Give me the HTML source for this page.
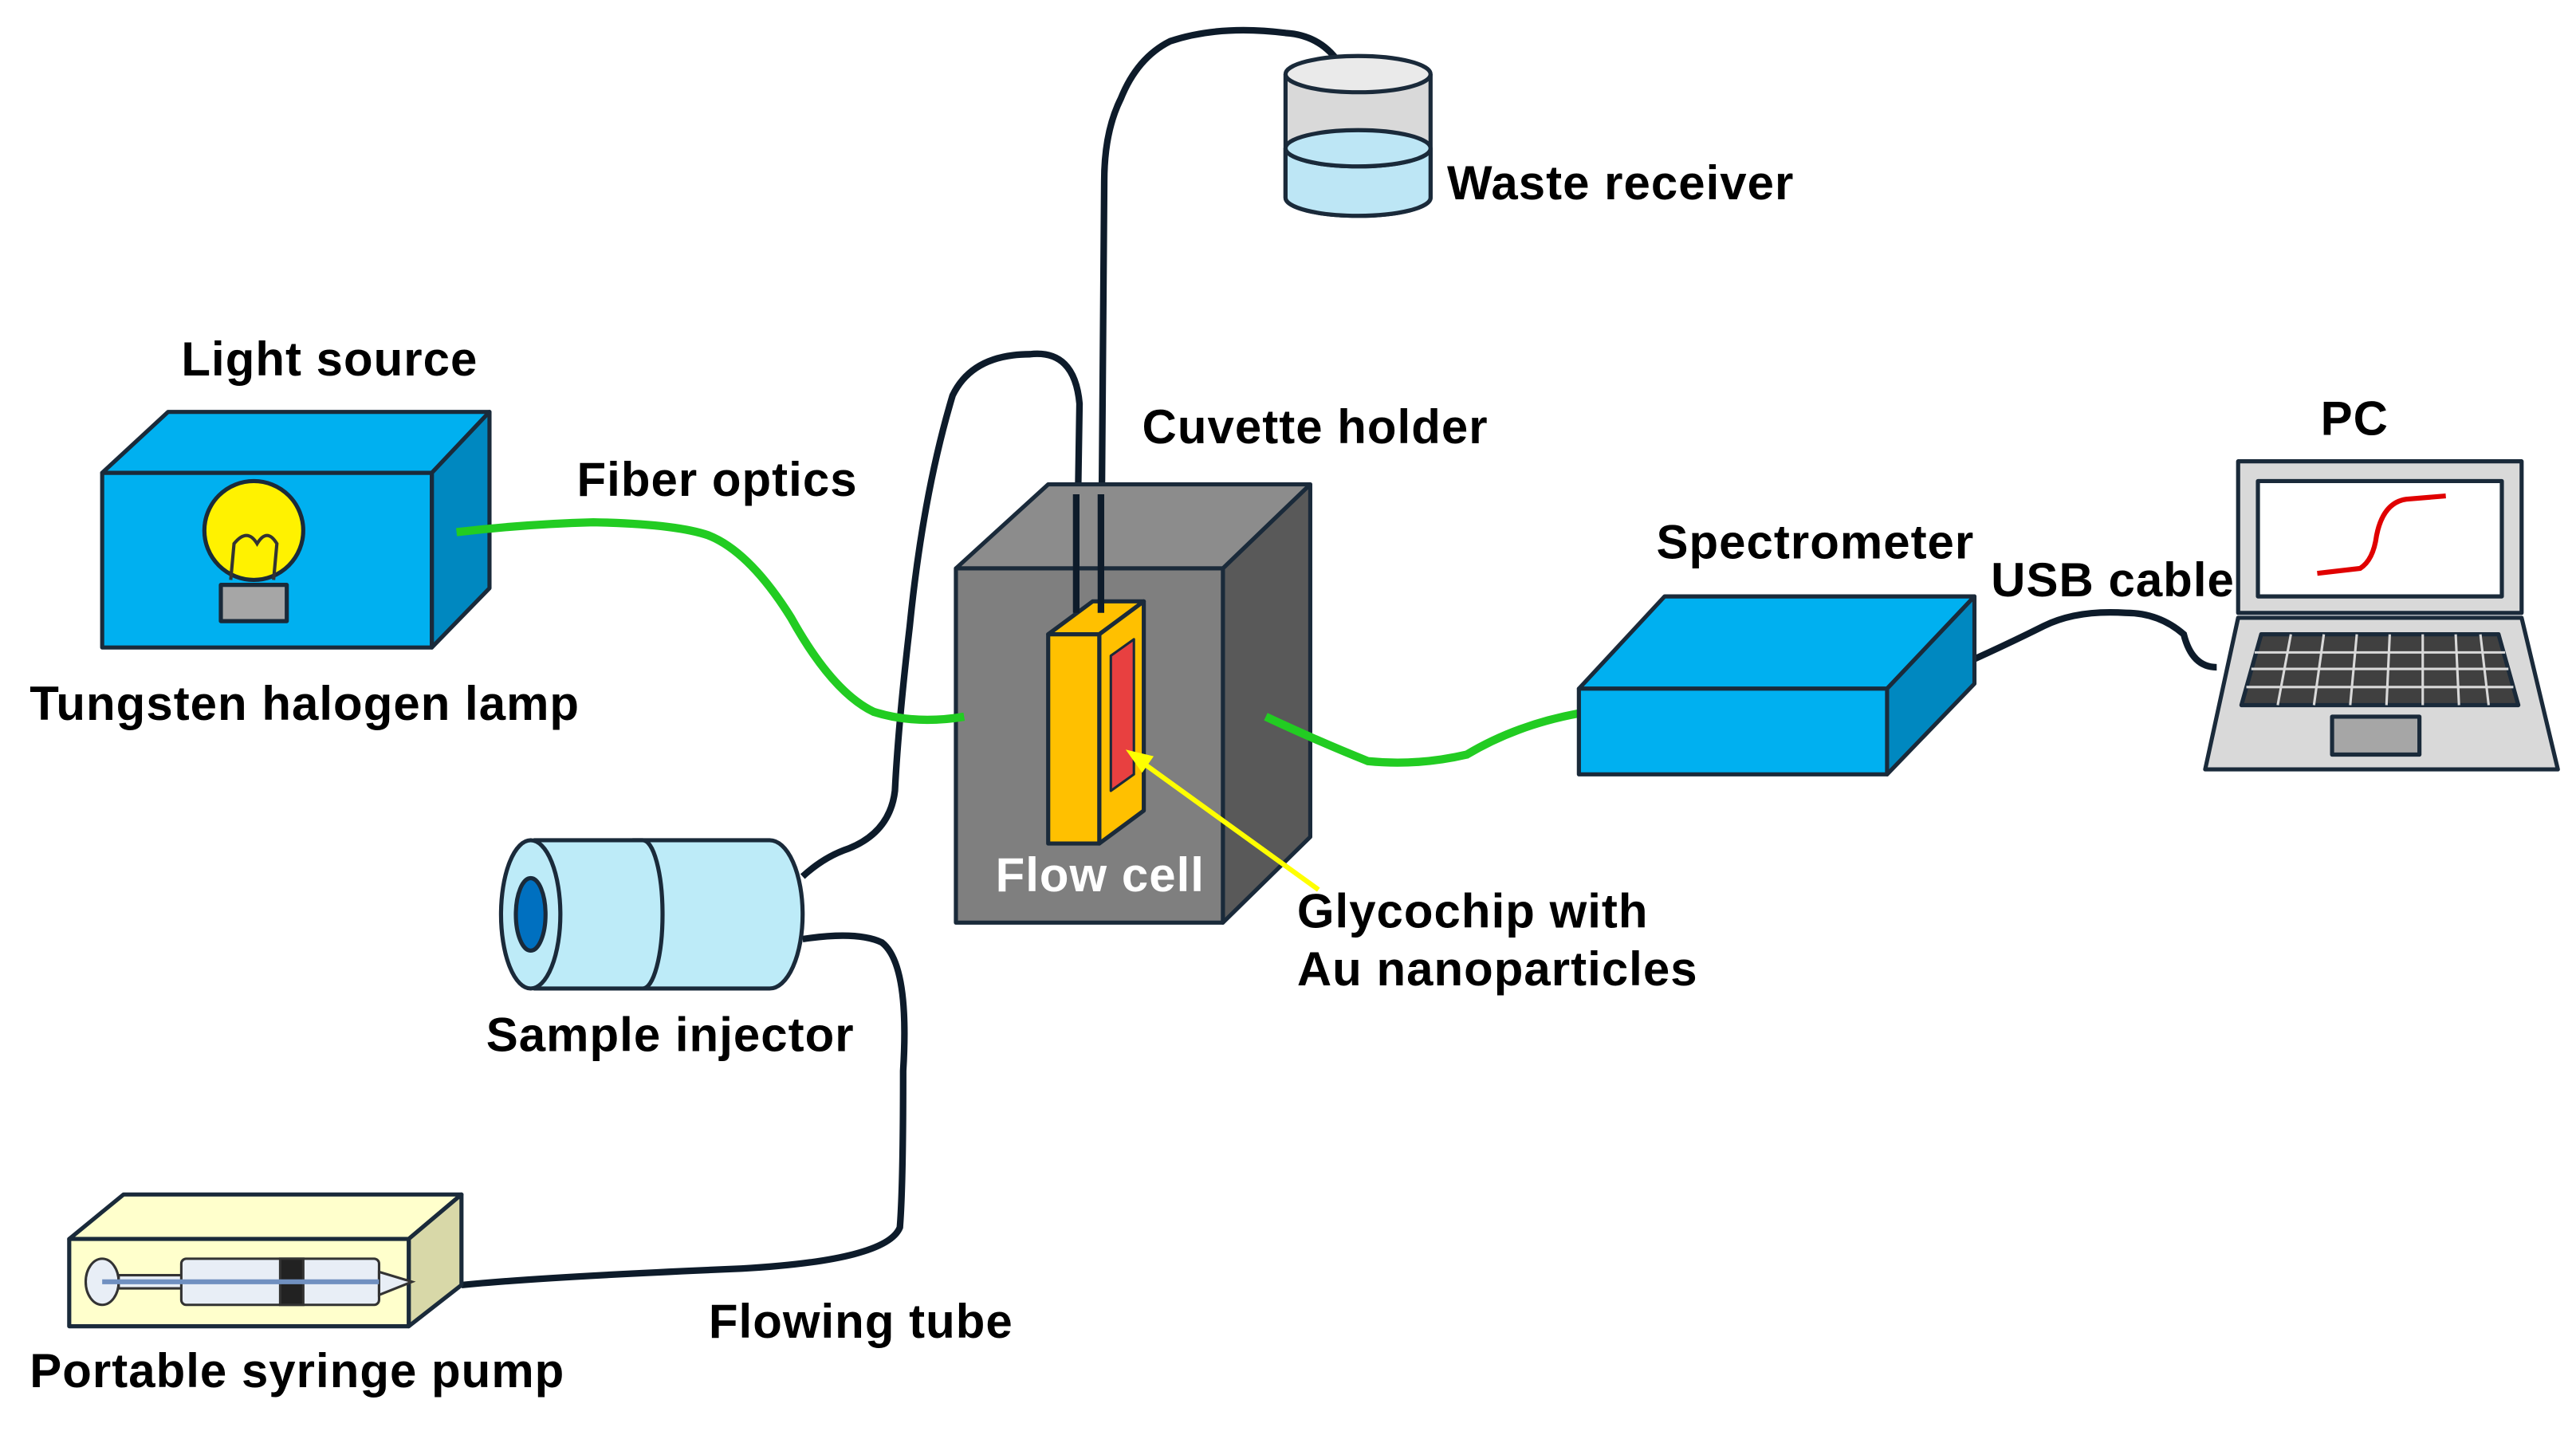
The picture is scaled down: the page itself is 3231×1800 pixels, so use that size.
<!DOCTYPE html>
<html><head><meta charset="utf-8"><style>html,body{margin:0;padding:0;background:#fff}svg{display:block}text{font-family:"Liberation Sans",sans-serif;font-weight:bold;font-size:29px;letter-spacing:0.5px;fill:#000}</style></head>
<body>
<svg width="3231" height="1800" viewBox="0 0 1563 871" preserveAspectRatio="none" xmlns="http://www.w3.org/2000/svg">
<g stroke="#1a2a3a" stroke-width="2.5" stroke-linejoin="round">
<polygon points="62,287 102,250 297,250 262,287" fill="#00B0F0"/>
<polygon points="262,287 297,250 297,357 262,393" fill="#0088C0"/>
<rect x="62" y="287" width="200" height="106" fill="#00B0F0"/>
<circle cx="154" cy="322" r="30" fill="#FFF200"/>
<rect x="134" y="355" width="40" height="22" fill="#A6A6A6"/>
</g>
<path d="M140,352 L142,330 Q150,320 156,330 Q162,320 168,330 L166,352" fill="none" stroke="#333" stroke-width="2"/>
<text x="110" y="228">Light source</text>
<text x="18" y="437">Tungsten halogen lamp</text>
<text x="350" y="301">Fiber optics</text>
<g fill="none" stroke="#0D1B2A" stroke-width="4">
<path d="M653,372 L655,245 Q652,212 625,215 Q590,215 578,240 Q560,300 552,380 Q545,440 543,480 Q540,505 515,515 Q500,520 487,532"/>
<path d="M668,372 L670,110 Q670,80 680,60 Q690,35 710,25 Q740,15 780,20 Q812,22 822,60"/>
<path d="M487,570 Q520,565 535,572 Q552,585 548,650 Q548,720 546,745 Q538,765 450,770 Q330,775 280,780"/>
<path d="M1198,400 Q1220,390 1240,380 Q1260,370 1290,372 Q1310,372 1325,385 Q1330,405 1345,405"/>
</g>
<g stroke="#1a2a3a" stroke-width="2.5">
<path d="M780,45 L780,120 A44,11 0 0 0 868,120 L868,45" fill="#D9D9D9"/>
<path d="M780,90 L780,120 A44,11 0 0 0 868,120 L868,90 A44,11 0 0 1 780,90 Z" fill="#BDE6F5"/>
<ellipse cx="824" cy="90" rx="44" ry="11" fill="#BDE6F5"/>
<ellipse cx="824" cy="45" rx="44" ry="11" fill="#EAEAEA"/>
</g>
<text x="878" y="121">Waste receiver</text>
<g stroke="#1a2a3a" stroke-width="2.5" stroke-linejoin="round">
<polygon points="580,345 636,294 795,294 742,345" fill="#8C8C8C"/>
<polygon points="742,345 795,294 795,508 742,560" fill="#595959"/>
<rect x="580" y="345" width="162" height="215" fill="#7F7F7F"/>
<polygon points="636,385 663,365 694,365 667,385" fill="#FFC000"/>
<polygon points="667,385 694,365 694,492 667,512" fill="#FFC000"/>
<rect x="636" y="385" width="31" height="127" fill="#FFC000"/>
<polygon points="674,398 688,388 688,470 674,480" fill="#E84040" stroke-width="1.5"/>
</g>
<g stroke="#0D1B2A" stroke-width="4"><line x1="653" y1="372" x2="653" y2="300"/><line x1="668" y1="372" x2="668" y2="300"/></g>
<text x="693" y="269">Cuvette holder</text>
<text x="604" y="541" style="fill:#fff">Flow cell</text>
<line x1="800" y1="540" x2="692" y2="462" stroke="#FFFF00" stroke-width="3"/>
<polygon points="683,455 700,459 693,469" fill="#FFFF00"/>
<text x="787" y="563">Glycochip with</text>
<text x="787" y="598">Au nanoparticles</text>
<g fill="none" stroke="#22CC22" stroke-width="5">
<path d="M277,323 Q320,318 360,317 Q410,318 430,325 Q455,335 480,375 Q505,420 530,432 Q555,440 585,435"/>
<path d="M768,435 Q800,450 830,462 Q860,465 890,458 Q920,440 958,433"/>
</g>
<g stroke="#1a2a3a" stroke-width="2.5">
<path d="M385,510 L467,510 A20,45 0 0 1 467,600 L385,600 Z" fill="#BDEBF8"/>
<path d="M325,510 L390,510 A12,45 0 0 1 390,600 L325,600 Z" fill="#BDEBF8"/>
<ellipse cx="322" cy="555" rx="18" ry="45" fill="#BDEBF8"/>
<ellipse cx="322" cy="555" rx="9" ry="22" fill="#0070C0"/>
</g>
<text x="295" y="638">Sample injector</text>
<g stroke="#1a2a3a" stroke-width="2.5" stroke-linejoin="round">
<polygon points="42,752 75,725 280,725 248,752" fill="#FFFFCC"/>
<polygon points="248,752 280,725 280,780 248,805" fill="#D8D8A8"/>
<rect x="42" y="752" width="206" height="53" fill="#FFFFCC"/>
</g>
<g stroke="#333" stroke-width="1.5" fill="#E8EEF6">
<ellipse cx="62" cy="778" rx="10" ry="14"/>
<rect x="72" y="774" width="40" height="8"/>
<rect x="110" y="764" width="120" height="28" rx="3"/>
<rect x="170" y="764" width="14" height="28" fill="#222"/>
<path d="M230,772 L250,778 L230,786 Z"/>
</g>
<line x1="62" y1="778" x2="230" y2="778" stroke="#7090C0" stroke-width="3"/>
<text x="430" y="812">Flowing tube</text>
<text x="18" y="842">Portable syringe pump</text>
<g stroke="#1a2a3a" stroke-width="2.5" stroke-linejoin="round">
<polygon points="958,418 1010,362 1198,362 1145,418" fill="#00B0F0"/>
<polygon points="1145,418 1198,362 1198,415 1145,470" fill="#0088C0"/>
<rect x="958" y="418" width="187" height="52" fill="#00B0F0"/>
</g>
<text x="1005" y="339">Spectrometer</text>
<text x="1208" y="362">USB cable</text>
<g stroke="#1a2a3a" stroke-width="2.5" stroke-linejoin="round">
<rect x="1358" y="280" width="172" height="92" fill="#D9D9D9"/>
<rect x="1370" y="292" width="148" height="70" fill="#fff"/>
<polygon points="1358,375 1530,375 1552,467 1338,467" fill="#D9D9D9"/>
<polygon points="1372,385 1516,385 1528,428 1360,428" fill="#404040"/>
<rect x="1415" y="435" width="53" height="23" fill="#A6A6A6"/>
</g>
<g stroke="#D9D9D9" stroke-width="1.5">
<line x1="1368" y1="396" x2="1520" y2="396"/><line x1="1366" y1="406" x2="1522" y2="406"/><line x1="1363" y1="417" x2="1525" y2="417"/>
<line x1="1390" y1="385" x2="1382" y2="428"/><line x1="1410" y1="385" x2="1404" y2="428"/><line x1="1430" y1="385" x2="1426" y2="428"/><line x1="1450" y1="385" x2="1448" y2="428"/><line x1="1470" y1="385" x2="1470" y2="428"/><line x1="1490" y1="385" x2="1492" y2="428"/><line x1="1505" y1="385" x2="1510" y2="428"/>
</g>
<path d="M1406,348 L1432,345 Q1440,340 1442,325 Q1446,305 1460,303 L1484,301" fill="none" stroke="#E00000" stroke-width="3"/>
<text x="1408" y="264">PC</text>
</svg>
</body></html>
